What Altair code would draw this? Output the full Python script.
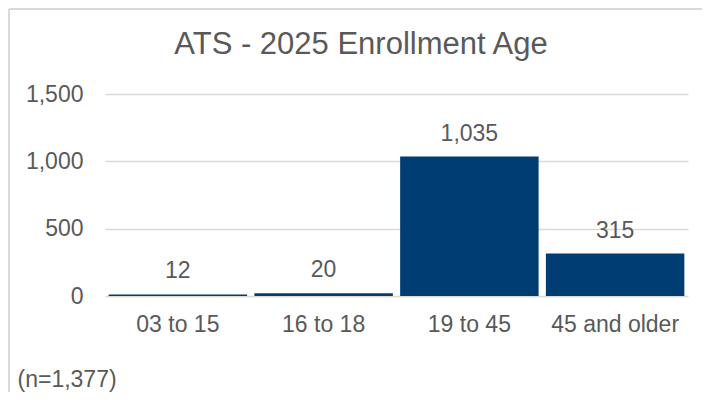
import altair as alt
import pandas as pd

categories = ["03 to 15", "16 to 18", "19 to 45", "45 and older"]
values = [12, 20, 1035, 315]
y_ticks = [0, 500, 1000, 1500]
title_text = "ATS - 2025 Enrollment Age"
note_text = "(n=1,377)"

df = pd.DataFrame({"cat": categories, "val": values})

FONT = "Liberation Sans"
GRAY = "#595959"
BAR = "#003D73"
GRID = "#D9D9D9"

x_enc = alt.X(
    "cat:N",
    sort=categories,
    scale=alt.Scale(paddingInner=0.05, paddingOuter=0.025),
    axis=alt.Axis(
        title=note_text,
        titleFont=FONT,
        titleFontSize=23,
        titleFontWeight="normal",
        titleColor=GRAY,
        titleAnchor="start",
        titleAlign="left",
        titleBaseline="alphabetic",
        titleX=-88,
        titleY=90,
        labelAngle=0,
        labelFont=FONT,
        labelFontSize=23,
        labelColor=GRAY,
        labelPadding=17,
        ticks=False,
        domain=False,
        grid=False,
    ),
)
y_enc = alt.Y(
    "val:Q",
    scale=alt.Scale(domain=[0, 1500], nice=False),
    axis=alt.Axis(
        title=None,
        values=y_ticks,
        format=",.0f",
        labelFont=FONT,
        labelFontSize=23,
        labelColor=GRAY,
        labelPadding=22,
        ticks=False,
        domain=False,
        grid=True,
        gridColor=GRID,
        gridWidth=1.5,
    ),
)

base = alt.Chart(df)
bars = base.mark_bar(color=BAR).encode(x=x_enc, y=y_enc)
labels = base.mark_text(
    font=FONT, fontSize=23, color=GRAY, baseline="alphabetic", dy=-16
).encode(x=alt.X("cat:N", sort=categories), y="val:Q", text=alt.Text("val:Q", format=",.0f"))

title_df = pd.DataFrame({"t": [title_text]})
title_mark = alt.Chart(title_df).mark_text(
    font=FONT, fontSize=31, color=GRAY, baseline="alphabetic", align="center"
).encode(x=alt.value(256), y=alt.value(-40), text="t:N")

border_left = base.mark_rule(color=GRID, strokeWidth=1.5).encode(
    x=alt.value(-96), y=alt.value(-85), y2=alt.value(300)
)
border_top = base.mark_rule(color=GRID, strokeWidth=1.5).encode(
    x=alt.value(-96), x2=alt.value(600), y=alt.value(-85)
)

chart = (
    alt.layer(bars, labels, title_mark, border_left, border_top)
    .properties(
        width=583,
        height=202,
        autosize=alt.AutoSizeParams(type="none"),
        padding={"left": 97, "top": 86, "right": 14, "bottom": 96},
    )
    .configure_view(stroke=None)
)

chart.save("out.html", embed_options={"renderer": "svg", "actions": False})
